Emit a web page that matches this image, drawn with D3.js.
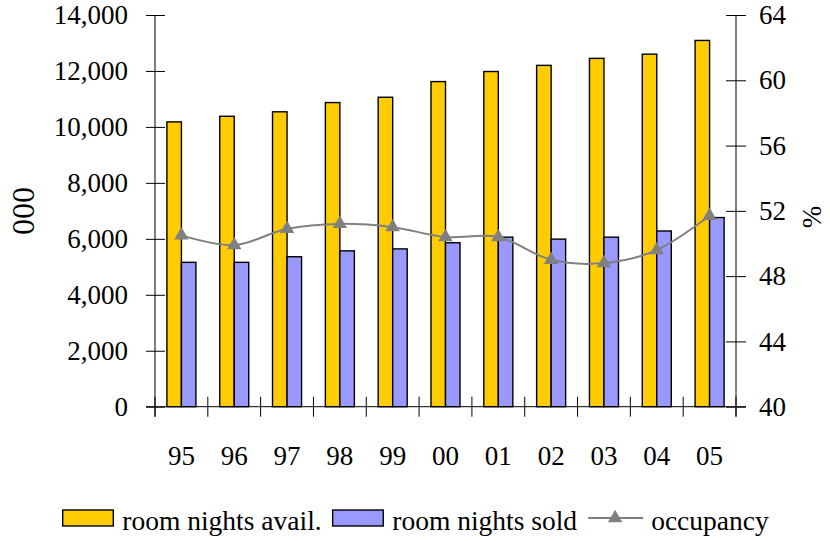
<!DOCTYPE html>
<html>
<head>
<meta charset="utf-8">
<script src="https://cdn.jsdelivr.net/npm/d3@7"></script>
<style>
  html, body { margin: 0; padding: 0; background: #fff; }
  svg text { font-family: "Liberation Serif", "Tinos", "Times New Roman", "DejaVu Serif", serif !important; }
</style>
</head>
<body>
<svg id="chart" width="830" height="542"></svg>
<script>
const years = ["95", "96", "97", "98", "99", "00", "01", "02", "03", "04", "05"];
const roomNightsAvail = [10180, 10380, 10540, 10870, 11060, 11620, 11980, 12200, 12450, 12600, 13090];
const roomNightsSold = [5160, 5160, 5360, 5570, 5640, 5860, 6060, 5990, 6060, 6280, 6760];
const occupancy = [50.5, 49.9, 50.9, 51.2, 51.0, 50.4, 50.4, 49.0, 48.8, 49.6, 51.7];
const leftTicks = [0, 2000, 4000, 6000, 8000, 10000, 12000, 14000];
const rightTicks = [40, 44, 48, 52, 56, 60, 64];
const seriesNames = ["room nights avail.", "room nights sold", "occupancy"];
const leftTitle = "000";
const rightTitle = "%";

const svg = d3.select("#chart");
const plotLeft = 155, plotRight = 736, plotTop = 15, plotBottom = 406.7;

const x = d3.scaleBand().domain(years).range([plotLeft, plotRight]).paddingInner(0).paddingOuter(0);
const inner = d3.scaleBand().domain(["avail", "sold"]).range([0, x.bandwidth()]).paddingInner(0).paddingOuter(0.82);
const yL = d3.scaleLinear().domain([0, 14000]).range([plotBottom, plotTop]);
const yR = d3.scaleLinear().domain([40, 64]).range([plotBottom, plotTop]);

const colors = { avail: "#FFCC00", sold: "#9999FF", occ: "#808080" };

// Bars
const rows = years.map((y, i) => ({ y, avail: roomNightsAvail[i], sold: roomNightsSold[i], occ: occupancy[i] }));
const g = svg.append("g");
["avail", "sold"].forEach(k => {
  g.selectAll("rect." + k).data(rows).enter().append("rect")
    .attr("class", k)
    .attr("x", d => x(d.y) + inner(k))
    .attr("width", inner.bandwidth())
    .attr("y", d => yL(d[k]))
    .attr("height", d => yL(0) - yL(d[k]))
    .attr("fill", colors[k])
    .attr("stroke", "#000")
    .attr("stroke-width", 1.4);
});

// Left axis
const axL = svg.append("g").attr("transform", `translate(${plotLeft},0)`)
  .call(d3.axisLeft(yL).tickValues(leftTicks).tickFormat(d3.format(",")).tickSize(0).tickPadding(27));
axL.select(".domain").remove();
axL.selectAll(".tick line").attr("x1", -9).attr("x2", 10).attr("stroke", "#000");
axL.selectAll("text").attr("font-size", 27).attr("fill", "#000");

// Right axis
const axR = svg.append("g").attr("transform", `translate(${plotRight},0)`)
  .call(d3.axisRight(yR).tickValues(rightTicks).tickSize(0).tickPadding(23));
axR.select(".domain").remove();
axR.selectAll(".tick line").attr("x1", -10).attr("x2", 10).attr("stroke", "#000");
axR.selectAll("text").attr("font-size", 27).attr("fill", "#000");

// Axis lines
svg.append("line").attr("x1", plotLeft).attr("x2", plotLeft).attr("y1", plotTop).attr("y2", plotBottom + 10).attr("stroke", "#000");
svg.append("line").attr("x1", plotRight).attr("x2", plotRight).attr("y1", plotTop).attr("y2", plotBottom + 10).attr("stroke", "#000");
svg.append("line").attr("x1", plotLeft - 9).attr("x2", plotRight + 10).attr("y1", plotBottom).attr("y2", plotBottom).attr("stroke", "#000");

// X axis boundary ticks
const bounds = years.map(c => x(c)).concat([x.range()[1]]);
svg.append("g").selectAll("line").data(bounds).enter().append("line")
  .attr("x1", d => d).attr("x2", d => d)
  .attr("y1", plotBottom - 10).attr("y2", plotBottom + 10)
  .attr("stroke", "#000");

// X labels
const axX = svg.append("g").attr("transform", `translate(0,${plotBottom})`)
  .call(d3.axisBottom(x).tickSize(0).tickPadding(39));
axX.select(".domain").remove();
axX.selectAll("text").attr("font-size", 27).attr("fill", "#000");

// Occupancy line
const line = d3.line().x(d => x(d.y) + x.bandwidth() / 2).y(d => yR(d.occ)).curve(d3.curveCatmullRom.alpha(0));
svg.append("path").datum(rows).attr("d", line).attr("fill", "none").attr("stroke", colors.occ).attr("stroke-width", 2);
const tri = d3.symbol().type(d3.symbolTriangle).size(90);
svg.append("g").selectAll("path").data(rows).enter().append("path")
  .attr("d", tri)
  .attr("transform", d => `translate(${x(d.y) + x.bandwidth() / 2},${yR(d.occ)})`)
  .attr("fill", colors.occ);

// Axis titles
svg.append("text").attr("transform", "translate(34,211) rotate(-90)")
  .attr("text-anchor", "middle").attr("font-size", 32).text(leftTitle);
svg.append("text").attr("transform", "translate(821,217) rotate(-90)")
  .attr("text-anchor", "middle").attr("font-size", 27).text(rightTitle);

// Legend
const lg = svg.append("g");
let lx = 62.7;
const ly = 518;
seriesNames.forEach((name, i) => {
  if (i < 2) {
    lg.append("rect").attr("x", lx).attr("y", ly - 8).attr("width", 50.6).attr("height", 16)
      .attr("fill", i === 0 ? colors.avail : colors.sold).attr("stroke", "#000").attr("stroke-width", 1.4);
    lx += 50.6 + 9;
  } else {
    lg.append("line").attr("x1", lx).attr("x2", lx + 55).attr("y1", ly).attr("y2", ly)
      .attr("stroke", colors.occ).attr("stroke-width", 2);
    lg.append("path").attr("d", tri).attr("transform", `translate(${lx + 27},${ly})`).attr("fill", colors.occ);
    lx += 55 + 8;
  }
  const t = lg.append("text").attr("x", lx).attr("y", ly + 12).attr("font-size", 27.5).text(name);
  lx += t.node().getComputedTextLength() + 11;
});
</script>
</body>
</html>
